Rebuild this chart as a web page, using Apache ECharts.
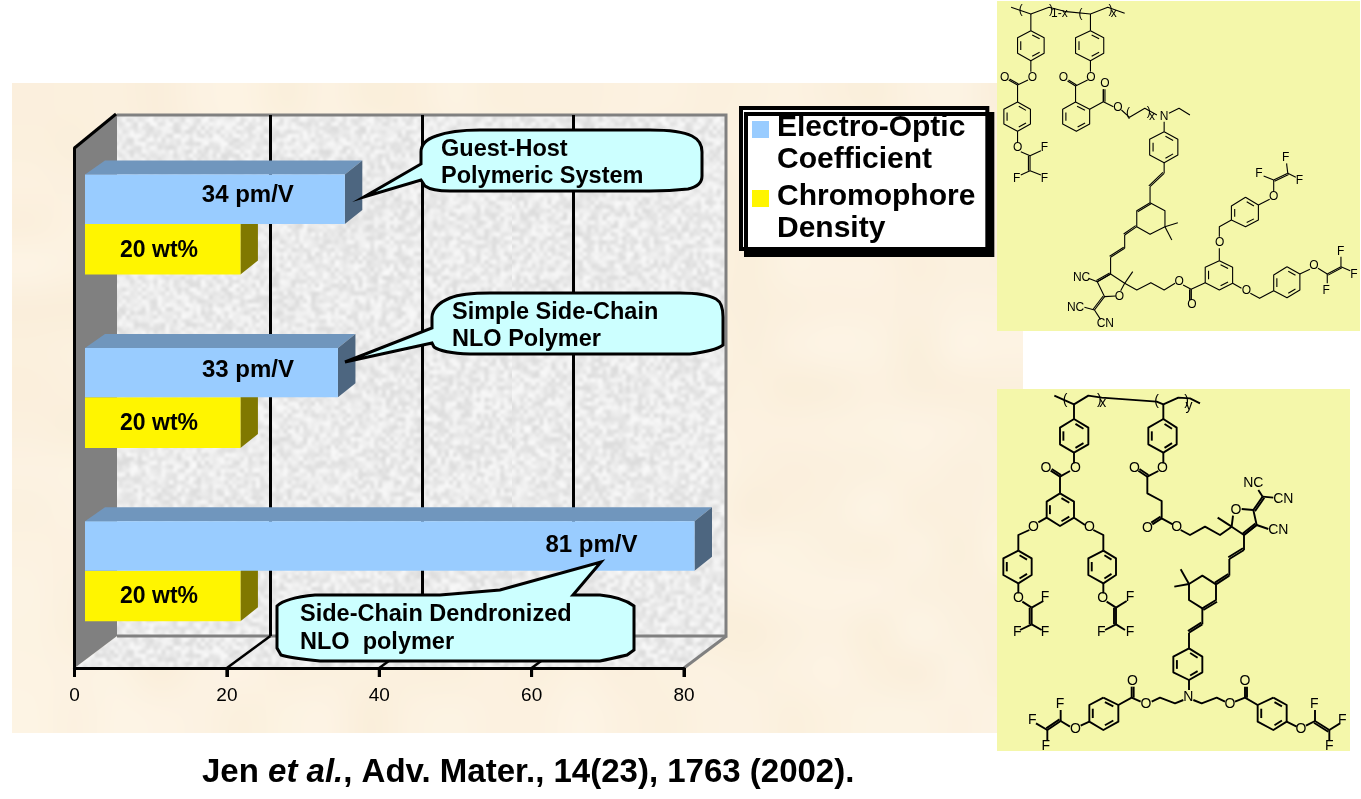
<!DOCTYPE html>
<html><head><meta charset="utf-8">
<style>html,body{margin:0;padding:0;background:#fff}#c{width:1361px;height:799px}</style>
<script src="https://cdn.jsdelivr.net/npm/echarts@6/dist/echarts.min.js"></script>
</head><body><div id="c"></div>
<script>
// ---- data ----
const systems = ['Guest-Host Polymeric System', 'Simple Side-Chain NLO Polymer', 'Side-Chain Dendronized NLO polymer'];
const electroOptic = [34.1, 33.2, 81];      // drawn bar length, the axis clips the last one at 80
const chromophore = [20.4, 20.4, 20.4];
const eoLabels = ['34 pm/V', '33 pm/V', '81 pm/V'];
const densityLabels = ['20 wt%', '20 wt%', '20 wt%'];
const xTicks = [0, 20, 40, 60, 80];
const seriesNames = ['Electro-Optic\nCoefficient', 'Chromophore\nDensity'];
const citeA = 'Jen ', citeB = 'et al.', citeC = ', Adv. Mater., 14(23), 1763 (2002).';

const FF = '"Liberation Sans", Arial, sans-serif';
const AX_MAX = 80;

// ---- deterministic textures ----
function lcg(seed){let s=seed>>>0;return ()=>{s=(Math.imul(s,1664525)+1013904223)>>>0;return s/4294967296;};}
function noiseCanvas(w,h,cw,ch,seed,lo,hi){
  const r=lcg(seed),src=document.createElement('canvas');src.width=cw;src.height=ch;
  const g=src.getContext('2d'),im=g.createImageData(cw,ch);
  for(let i=0;i<cw*ch;i++){const t=r();for(let k=0;k<3;k++)im.data[i*4+k]=lo[k]+(hi[k]-lo[k])*t;im.data[i*4+3]=255;}
  g.putImageData(im,0,0);
  const out=document.createElement('canvas');out.width=w;out.height=h;
  const o=out.getContext('2d');o.imageSmoothingEnabled=true;o.imageSmoothingQuality='high';o.drawImage(src,0,0,w,h);
  return out;
}
const stone=noiseCanvas(512,512,130,130,7,[220,220,220],[248,248,248]);
const beige=noiseCanvas(1011,650,24,16,11,[250,238,218],[253,244,229]);
const stonePat={image:stone,repeat:'repeat'};

// ---- chart pieces ----
const FRONT_DX=10.5, SIDE_DX=17.5, SIDE_DY=14, LEFT_DX=20;
const DEPTH_DX=42.5, DEPTH_DY=32, TICK_LEN=9;
const eoShift=[-97,-90,-103], eoRise=[4,2,1];

function barItem(kind){
  return function(params,api){
    const val=Math.min(api.value(0),AX_MAX), idx=api.value(1);
    const p=api.coord([val,idx]), o=api.coord([0,idx]), band=api.size([0,1])[1];
    const x0=o[0]+FRONT_DX, x1=p[0]+FRONT_DX, cy=p[1];
    const h=band*0.285;
    const top=kind==='eo'?cy-band*0.0617-h:cy-band*0.0617;
    const bottom=kind==='eo'?top+h:top+band*0.292;
    const color=api.visual('color');
    const side=kind==='eo'?'#4D6680':'#807800', cap='#7096BD';
    const ch=[];
    if(kind==='eo'){
      ch.push({type:'polygon',shape:{points:[[x0,top],[x0+LEFT_DX,top-SIDE_DY],[x1+SIDE_DX,top-SIDE_DY],[x1,top]]},style:{fill:cap}});
    }
    ch.push({type:'polygon',shape:{points:[[x1,top],[x1+SIDE_DX,top-SIDE_DY],[x1+SIDE_DX,bottom-SIDE_DY],[x1,bottom]]},style:{fill:side}});
    ch.push({type:'rect',shape:{x:x0,y:top,width:x1-x0,height:bottom-top},style:{fill:color}});
    const tx=kind==='eo'?x1+eoShift[params.dataIndex]:x0+74;
    const ty=kind==='eo'?(top+bottom)/2-eoRise[params.dataIndex]:(top+bottom)/2+1;
    ch.push({type:'text',style:{text:(kind==='eo'?eoLabels:densityLabels)[params.dataIndex],x:tx,y:ty,
      align:'center',verticalAlign:'middle',fill:'#000',font:'bold '+(kind==='eo'?24:23)+'px '+FF}});
    return {type:'group',children:ch};
  };
}

function frameItem(params,api){
  const cs=params.coordSys, L=cs.x, T=cs.y, B=cs.y+cs.height, R=cs.x+cs.width;
  const bL=L+DEPTH_DX, bR=R+DEPTH_DX-0.5, bT=T-33, bB=B-DEPTH_DY;
  const ch=[
    {type:'rect',shape:{x:bL,y:bT,width:bR-bL,height:bB-bT},style:{fill:stonePat}},
    {type:'polygon',shape:{points:[[L,B],[bL,bB],[bR,bB],[R,B]]},style:{fill:stonePat}},
    {type:'polyline',shape:{points:[[bL,bT],[bR,bT],[bR,bB],[bL,bB]]},style:{fill:'none',stroke:'#808080',lineWidth:3}},
    {type:'polygon',shape:{points:[[L,T],[bL,bT-1.5],[bL,bB],[L,B]]},style:{fill:'#808080'}},
    {type:'line',shape:{x1:L,y1:T,x2:bL-1,y2:bT-1},style:{stroke:'#000',lineWidth:3}}
  ];
  xTicks.forEach((t,i)=>{
    const x=api.coord([t,0])[0];
    ch.push({type:'line',shape:{x1:x,y1:B,x2:x,y2:B+TICK_LEN},style:{stroke:'#000',lineWidth:3}});
    if(i===0)return;
    ch.push({type:'line',shape:{x1:x,y1:B,x2:x+DEPTH_DX+(i<4?1:0),y2:bB},style:{stroke:i===4?'#808080':'#000',lineWidth:i===4?3:2.5}});
  });
  return {type:'group',children:ch};
}

// ---- callouts (annotation shapes) ----
const callouts=[
 {d:'M421 164 L421 152 Q421 141 436 136 Q452 130 480 130 L650 130 Q680 130 692 136 Q702 141 702 152 L702 176 Q702 186 688 189 Q670 191 650 191 L450 191 Q432 191 425 186 L421 180 L364 197 Z',
  lines:['Guest-Host','Polymeric System'],x:441,y:[150,177]},
 {d:'M432 328 L432 317 Q433 305 450 298 Q462 293 490 293 L680 293 Q705 293 716 299 Q723 303 723 317 L723 345 Q715 351 690 354 L470 354 Q442 353 434 347 L432 343 L345 362 Z',
  lines:['Simple Side-Chain','NLO Polymer'],x:452,y:[313,340]},
 {d:'M601 562 L573 595 L600 595 Q622 597 634 606 L634 650 L627 655 Q610 659 600 661 L320 661 Q290 658 281 655 L277 648 L277 606 Q285 598 315 595 L440 595 L500 590 Z',
  lines:['Side-Chain Dendronized','NLO  polymer'],x:300,y:[615,643]}
];
callouts.forEach((c,i)=>echarts.graphic.registerShape('callout'+i,echarts.graphic.extendPath(c.d,{})));

// ---- chemical structures (decorative line drawings, in crop coordinates) ----
const topMap=(p)=>[730+p[0]/2.483,p[1]/3], botMap=(p)=>[990+p[0]/3,385+p[1]/3];
const topChains=[
 [[698,22],[747,42],[792,22],[835,35],[895,42],[938,22],[980,40]],
 [[747,42],[747,92]],[[747,182],[747,215]],[[740,240],[714,255],[714,306]],[[714,394],[714,428]],
 [[722,455],[745,467]],[[745,467],[772,452]],[[745,512],[722,525]],[[745,512],[772,525]],
 [[895,42],[895,92]],[[895,182],[895,215]],[[888,240],[858,258],[858,306]],
 [[893,328],[927,305],[952,320]],[[927,305],[927,268]],
 [[972,330],[992,352],[1030,325],[1060,345]],[[1090,340],[1115,325],[1142,345]],[[1078,365],[1078,395]],
 [[1078,488],[1078,520]],[[1043,560],[1043,608]],[[1080,680],[1112,668]],[[1080,680],[1097,720]],
 [[980,705],[980,745]],[[945,772],[945,822]],
 [[945,822],[980,850],[970,872]],[[958,888],[930,890],[912,845],[945,822]],[[912,845],[890,835]],
 [[905,930],[880,922]],[[905,930],[920,958]],
 [[980,850],[1000,815]],[[980,850],[1010,870],[1045,848],[1078,870],[1105,850]],
 [[1125,855],[1145,868],[1180,848]],[[1145,868],[1145,900]],[[1215,782],[1215,745]],[[1215,710],[1215,680],[1245,660]],
 [[1312,615],[1340,598]],[[1350,575],[1350,540]],[[1350,540],[1325,528]],[[1385,520],[1382,490]],[[1385,520],[1405,532]],
 [[1248,850],[1270,865]],[[1292,880],[1315,895],[1350,872]],[[1415,822],[1440,808]],[[1460,805],[1483,822]],
 [[1483,822],[1483,850]],[[1517,800],[1517,770]],[[1517,800],[1540,812]]
];
const topDoubles=[[[745,467],[745,512]],[[714,255],[692,240]],[[858,258],[838,243]],[[927,305],[927,268]],
 [[1078,520],[1043,560]],[[1010,680],[980,705]],[[980,745],[945,772]],[[945,822],[912,845]],[[930,890],[905,930]],
 [[1145,868],[1145,900]],[[1350,540],[1385,520]],[[1483,822],[1517,800]]];
const topRings=[
 [[747,92],[780,113],[780,160],[747,182],[714,160],[714,113]],
 [[714,306],[746,328],[746,372],[714,394],[680,372],[680,328]],
 [[895,92],[928,113],[928,160],[895,182],[858,160],[858,113]],
 [[858,306],[893,328],[893,372],[860,394],[826,372],[826,328]],
 [[1078,395],[1112,418],[1112,465],[1078,488],[1042,465],[1042,418]],
 [[1215,782],[1248,802],[1248,850],[1215,870],[1180,848],[1180,802]],
 [[1280,592],[1312,615],[1312,660],[1280,680],[1245,660],[1245,618]],
 [[1383,800],[1415,822],[1415,870],[1383,893],[1350,872],[1350,825]]
];
const topPlain=[[[1043,608],[1080,632],[1080,680],[1043,703],[1010,680],[1010,632],[1043,608]]];
const topExtra=[[[1043,608],[1010,632]]];
const topTexts=[['O',751,232],['O',682,232],['O',714,442],['F',781,442],['F',712,535],['F',781,535],['1-x',818,42],['x',953,42],
 ['(',722,30],[')',797,30],['(',870,40],[')',945,30],['(',988,338],[')',1040,335],
 ['O',828,232],['O',896,232],['O',931,252],['O',963,322],['N',1078,350],['x',1048,349],['O',967,890],['NC',873,832],['NC',858,922],['CN',932,970],
 ['O',1115,845],['O',1147,913],['O',1216,727],['O',1350,590],['F',1313,520],['F',1380,473],['F',1414,542],['O',1282,872],['O',1450,797],['F',1480,872],['F',1516,755],['F',1549,823]];

const botChains=[
 [[193,32],[252,58],[295,32],[335,38],[500,50],[520,58],[565,38],[600,40],[630,55]],
 [[252,58],[252,102]],[[252,203],[252,235]],[[240,258],[210,275],[210,325]],[[170,398],[145,412]],
 [[118,435],[85,450],[85,497]],[[85,595],[85,625]],[[97,650],[125,668]],[[125,668],[160,648]],[[125,718],[90,735]],[[125,718],[155,735]],
 [[252,398],[285,420]],[[310,435],[340,450],[340,497]],[[340,595],[340,625]],[[350,650],[378,668]],[[378,668],[410,648]],[[378,718],[345,735]],[[378,718],[405,735]],
 [[520,58],[520,102]],[[520,203],[520,235]],[[505,258],[472,275],[472,325],[515,348],[515,400],[548,418]],
 [[572,435],[600,450],[645,425],[690,450],[725,425]],[[725,425],[683,398]],[[725,425],[729,392]],[[755,372],[790,375],[800,420],[762,450],[725,425]],
 [[818,335],[805,315]],[[818,335],[850,338]],[[800,420],[835,432]],[[762,450],[762,495]],[[718,522],[718,572]],
 [[597,597],[572,553]],[[597,597],[553,605]],[[637,670],[637,718]],[[597,743],[597,790]],[[597,885],[597,915]],
 [[610,945],[635,955],[680,938],[705,950]],[[735,950],[765,938],[803,960]],[[890,1010],[920,1025]],[[948,1022],[975,1008]],
 [[975,1008],[975,975]],[[1018,1035],[1050,1015]],[[1018,1035],[1018,1065]],
 [[580,945],[555,955],[510,938],[485,950]],[[452,950],[425,938],[385,960]],[[298,1010],[272,1022]],[[240,1025],[212,1008]],
 [[212,1008],[212,975]],[[172,1035],[138,1015]],[[172,1035],[172,1065]]
];
const botDoubles=[[[125,668],[125,718]],[[210,275],[182,257]],[[378,668],[378,718]],[[472,275],[445,257]],[[515,400],[487,418]],
 [[800,420],[762,450]],[[790,375],[818,335]],[[762,495],[718,522]],[[718,572],[678,598]],[[637,718],[597,743]],
 [[765,938],[765,905]],[[425,938],[425,905]],[[975,1008],[1018,1035]],[[212,1008],[172,1035]]];
const botRings=[
 [[252,102],[295,128],[295,178],[252,203],[210,178],[210,128]],
 [[210,325],[252,350],[252,398],[210,423],[170,398],[170,350]],
 [[85,497],[125,520],[125,570],[85,595],[40,570],[40,520]],
 [[340,497],[378,520],[378,570],[340,595],[295,570],[295,520]],
 [[520,102],[560,128],[560,178],[520,203],[475,178],[475,128]],
 [[597,790],[637,815],[637,862],[597,885],[550,862],[550,815]],
 [[850,938],[890,960],[890,1010],[850,1035],[803,1010],[803,960]],
 [[340,938],[385,960],[385,1010],[340,1035],[298,1010],[298,960]]
];
const botPlain=[[[678,598],[678,645],[637,670],[597,645],[597,597],[637,572],[678,598]]];
const botExtra=[[[678,645],[637,670]]];
const botTexts=[['O',256,250],['O',168,250],['O',130,425],['O',85,640],['F',165,637],['F',82,740],['F',165,740],['O',298,425],['O',338,640],['F',420,637],['F',334,740],['F',420,740],
 ['(',225,45],[')',328,45],['(',500,48],[')',590,48],
 ['O',517,250],['O',433,250],['O',472,428],['O',560,425],['O',738,375],['NC',790,293],['CN',880,343],['CN',865,436],['x',338,55],['y',597,62],
 ['N',595,935],['O',720,958],['O',765,887],['O',933,1032],['F',973,958],['F',1057,1005],['F',1018,1082],['O',468,958],['O',427,887],['O',256,1032],['F',210,958],['F',127,1005],['F',167,1082]];

function offsetLine(a,b,d){const dx=b[0]-a[0],dy=b[1]-a[1],l=Math.hypot(dx,dy);return [[a[0]-dy/l*d,a[1]+dx/l*d],[b[0]-dy/l*d,b[1]+dx/l*d]];}
function structure(map,chains,rings,plain,doubles,extra,texts,lw,fs,gap){
  const out=[],poly=(pts)=>out.push({type:'polyline',z:6,silent:true,shape:{points:pts.map(map)},style:{fill:'none',stroke:'#000',lineWidth:lw,lineJoin:'round'}});
  chains.concat(plain).forEach(poly);
  rings.forEach(r=>{
    poly(r.concat([r[0]]));
    const cx=r.reduce((s,p)=>s+p[0],0)/6, cy=r.reduce((s,p)=>s+p[1],0)/6;
    [0,2,4].forEach(i=>{const a=r[i],b=r[(i+1)%6],k=0.76;poly([[cx+(a[0]-cx)*k+(b[0]-a[0])*0.1,cy+(a[1]-cy)*k+(b[1]-a[1])*0.1],[cx+(b[0]-cx)*k-(b[0]-a[0])*0.1,cy+(b[1]-cy)*k-(b[1]-a[1])*0.1]]);});
  });
  doubles.forEach(d=>{poly(d);poly(offsetLine(d[0],d[1],gap));});
  extra.forEach(d=>poly(offsetLine(d[0],d[1],-gap)));
  texts.forEach(t=>{const q=map([t[1],t[2]]);out.push({type:'text',z:7,silent:true,style:{text:t[0],x:q[0],y:q[1],align:'center',verticalAlign:'middle',fill:'#000',font:fs+'px '+FF}});});
  return out;
}

const graphics=[
 {type:'image',z:-5,silent:true,style:{image:beige,x:12,y:83,width:1011,height:650}},
 {type:'rect',z:5,silent:true,shape:{x:997,y:1,width:363,height:330},style:{fill:'#F4F7AA'}},
 {type:'rect',z:5,silent:true,shape:{x:997,y:389,width:353,height:362},style:{fill:'#F4F7AA'}}
];
graphics.push(...structure(topMap,topChains,topRings,topPlain,topDoubles,topExtra,topTexts,1.1,12,4));
graphics.push(...structure(botMap,botChains,botRings,botPlain,botDoubles,botExtra,botTexts,1.9,14,6));
callouts.forEach((c,k)=>{
  graphics.push({type:'callout'+k,z:10,silent:true,shape:{},style:{fill:'#CCFFFF',stroke:'#000',lineWidth:3,lineJoin:'miter'}});
  c.lines.forEach((t,i)=>graphics.push({type:'text',z:11,silent:true,style:{text:t,x:c.x,y:c.y[i],verticalAlign:'middle',fill:'#000',font:'bold 23.5px '+FF}}));
});

const legendIcon='path://M0 0H17V17H0Z M20 46H20Z';
const chart=echarts.init(document.getElementById('c'),null,{renderer:'canvas'});
chart.setOption({
  animation:false,
  backgroundColor:'#fff',
  title:{left:202,top:756,padding:0,text:'{b|'+citeA+'}{i|'+citeB+'}{b|'+citeC+'}',
    textStyle:{rich:{b:{fontFamily:FF,fontWeight:'bold',fontSize:33,color:'#000'},i:{fontFamily:FF,fontWeight:'bold',fontStyle:'italic',fontSize:33,color:'#000'}}}},
  legend:{orient:'vertical',left:741,top:108,padding:[4,12,4,11],itemWidth:20,itemHeight:46,itemGap:5,selectedMode:false,z:6,
    backgroundColor:'#fff',borderColor:'#000',borderWidth:4,borderRadius:0,shadowColor:'#000',shadowBlur:0,shadowOffsetX:5,shadowOffsetY:6,
    textStyle:{fontFamily:FF,fontSize:30,fontWeight:'bold',color:'#000',lineHeight:32},
    data:seriesNames.map(n=>({name:n,icon:legendIcon}))},
  grid:[
    {left:74.5,top:148,width:609.5,height:520,show:false},
    {left:119,top:115,width:606,height:521,show:false}
  ],
  xAxis:[
    {type:'value',gridIndex:0,min:0,max:AX_MAX,interval:20,z:3,splitLine:{show:false},
     axisLine:{show:true,lineStyle:{color:'#000',width:3}},axisTick:{show:true,inside:false,length:9,lineStyle:{color:'#000',width:3}},
     axisLabel:{color:'#000',fontFamily:FF,fontSize:19,margin:18,showMinLabel:true,showMaxLabel:true}},
    {type:'value',gridIndex:1,min:0,max:AX_MAX,interval:20,z:1.5,axisLine:{show:false},axisTick:{show:false},axisLabel:{show:false},
     splitLine:{show:true,showMinLine:false,showMaxLine:false,lineStyle:{color:'#000',width:3}}}
  ],
  yAxis:[
    {type:'category',gridIndex:0,inverse:true,data:systems,z:3,axisLine:{show:true,onZero:false,lineStyle:{color:'#000',width:3}},axisTick:{show:false},axisLabel:{show:false},splitLine:{show:false}},
    {type:'category',gridIndex:1,inverse:true,data:systems,show:false}
  ],
  series:[
    {type:'custom',name:'frame',z:1,silent:true,clip:false,xAxisIndex:0,yAxisIndex:0,renderItem:frameItem,data:[[0,0]]},
    {type:'custom',name:seriesNames[1],z:4,silent:true,clip:false,xAxisIndex:0,yAxisIndex:0,itemStyle:{color:'#FFF500'},renderItem:barItem('cd'),
     encode:{x:0,y:1},data:chromophore.map((v,i)=>[v,i])},
    {type:'custom',name:seriesNames[0],z:4.5,silent:true,clip:false,xAxisIndex:0,yAxisIndex:0,itemStyle:{color:'#99CCFF'},renderItem:barItem('eo'),
     encode:{x:0,y:1},data:electroOptic.map((v,i)=>[v,i])}
  ],
  graphic:{elements:graphics}
});
</script></body></html>
